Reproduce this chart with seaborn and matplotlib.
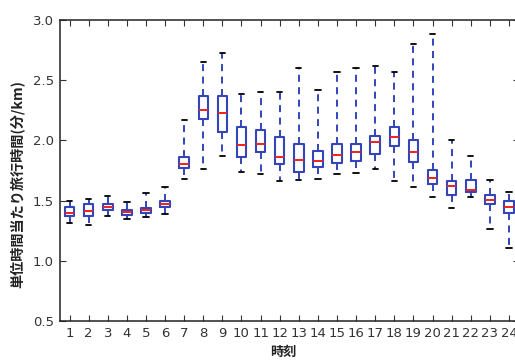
import numpy as np
import pandas as pd
import matplotlib
matplotlib.use("Agg")
import matplotlib.pyplot as plt
import seaborn as sns

hours = list(range(1, 25))
whisker_low = [1.31, 1.30, 1.37, 1.35, 1.36, 1.39, 1.68, 1.76, 1.87, 1.74, 1.72, 1.66,
               1.67, 1.68, 1.72, 1.73, 1.76, 1.66, 1.615, 1.53, 1.44, 1.53, 1.26, 1.11]
q1 = [1.37, 1.37, 1.42, 1.38, 1.40, 1.45, 1.77, 2.18, 2.07, 1.86, 1.90, 1.80,
      1.735, 1.78, 1.815, 1.83, 1.89, 1.955, 1.82, 1.64, 1.55, 1.57, 1.47, 1.40]
median = [1.40, 1.415, 1.447, 1.405, 1.42, 1.47, 1.80, 2.25, 2.23, 1.96, 1.97, 1.865,
          1.84, 1.83, 1.875, 1.905, 1.99, 2.03, 1.90, 1.69, 1.62, 1.59, 1.505, 1.45]
q3 = [1.447, 1.47, 1.47, 1.42, 1.44, 1.50, 1.86, 2.37, 2.37, 2.11, 2.09, 2.03,
      1.97, 1.91, 1.97, 1.97, 2.04, 2.11, 2.00, 1.75, 1.66, 1.67, 1.55, 1.50]
whisker_high = [1.50, 1.51, 1.54, 1.49, 1.56, 1.61, 2.17, 2.65, 2.73, 2.385, 2.40, 2.40,
                2.60, 2.42, 2.57, 2.60, 2.62, 2.57, 2.80, 2.88, 2.00, 1.87, 1.67, 1.57]
yticks = [0.5, 1.0, 1.5, 2.0, 2.5, 3.0]

rows = []
for h, a, b, c, d, e in zip(hours, whisker_low, q1, median, q3, whisker_high):
    for v in (a, b, c, d, e):
        rows.append({"hour": str(h), "value": v})
df = pd.DataFrame(rows)

sns.set_style("ticks")
plt.rcParams["font.family"] = ["DejaVu Sans"]

fig = plt.figure(figsize=(5.15, 3.61), dpi=100)
ax = fig.add_axes([60 / 515, 1 - 321 / 361, (518.5 - 60) / 515, (321 - 20) / 361])

blue = "#3345b8"
sns.boxplot(data=df, x="hour", y="value", order=[str(h) for h in hours],
            whis=(0, 100), width=0.5, fill=False, color=blue, linewidth=1.5,
            showfliers=False, capwidths=0.28,
            boxprops=dict(color=blue, linewidth=1.5),
            medianprops=dict(color="#ee2020", linewidth=1.4),
            whiskerprops=dict(color=blue, linestyle=(0, (3.6, 2.8)), linewidth=1.4),
            capprops=dict(color="black", linewidth=1.3),
            ax=ax)

ax.set_ylim(0.5, 3.0)
ax.set_xlim(-0.5, 23.5)
ax.set_yticks(yticks)
ax.set_yticklabels([f"{t:.1f}" for t in yticks])
ax.tick_params(axis="both", direction="in", top=True, right=True, length=4,
               width=0.8, labelsize=9.5, colors="#333333", pad=4.5)
for s in ax.spines.values():
    s.set_visible(True)
    s.set_color("#222222")
    s.set_linewidth(1.1)

jp = ["Noto Sans CJK JP", "DejaVu Sans"]
ax.set_xlabel("時刻", family=jp, fontsize=9.5, fontweight="bold", color="#222222")
ax.xaxis.set_label_coords((283 - 60) / (518.5 - 60), -(352 - 321) / 301, transform=ax.transAxes)
ax.xaxis.label.set_va("center")
ax.set_ylabel("単位時間当たり旅行時間(分/km)", family=jp, fontsize=10.2, fontweight="bold",
              color="#222222")
ax.yaxis.set_label_coords(-(60 - 17) / (518.5 - 60), (321 - 184) / 301)
ax.yaxis.label.set_va("center")

fig.savefig("out.png", dpi=100)
